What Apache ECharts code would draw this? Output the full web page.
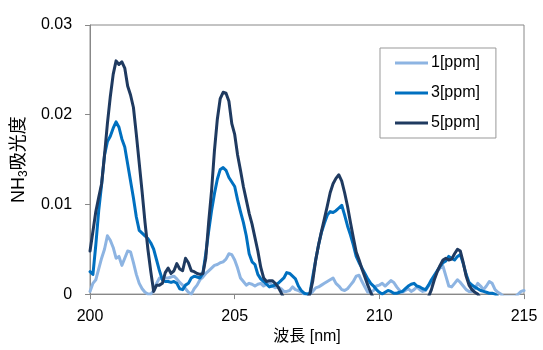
<!DOCTYPE html>
<html><head><meta charset="utf-8">
<script src="https://cdn.jsdelivr.net/npm/echarts@6/dist/echarts.min.js"></script>
<style>html,body{margin:0;padding:0;background:#fff}#c{width:543px;height:350px}</style>
</head><body><div id="c"></div>
<script>
var wavelength = [
200.0,200.1,200.2,200.3,200.4,200.5,200.6,200.7,200.8,200.9,
201.0,201.1,201.2,201.3,201.4,201.5,201.6,201.7,201.8,201.9,
202.0,202.1,202.2,202.3,202.4,202.5,202.6,202.7,202.8,202.9,
203.0,203.1,203.2,203.3,203.4,203.5,203.6,203.7,203.8,203.9,
204.0,204.1,204.2,204.3,204.4,204.5,204.6,204.7,204.8,204.9,
205.0,205.1,205.2,205.3,205.4,205.5,205.6,205.7,205.8,205.9,
206.0,206.1,206.2,206.3,206.4,206.5,206.6,206.7,206.8,206.9,
207.0,207.1,207.2,207.3,207.4,207.5,207.6,207.7,207.8,207.9,
208.0,208.1,208.2,208.3,208.4,208.5,208.6,208.7,208.8,208.9,
209.0,209.1,209.2,209.3,209.4,209.5,209.6,209.7,209.8,209.9,
210.0,210.1,210.2,210.3,210.4,210.5,210.6,210.7,210.8,210.9,
211.0,211.1,211.2,211.3,211.4,211.5,211.6,211.7,211.8,211.9,
212.0,212.1,212.2,212.3,212.4,212.5,212.6,212.7,212.8,212.9,
213.0,213.1,213.2,213.3,213.4,213.5,213.6,213.7,213.8,213.9,
214.0,214.1,214.2,214.3,214.4,214.5,214.6,214.7,214.8,214.9,215.0];

var ppm1 = [
0.0003,0.0012,0.0016,0.0028,0.0040,0.0050,0.0065,0.0060,0.0052,0.0040,
0.0042,0.0032,0.0040,0.0048,0.0047,0.0035,0.0022,0.0012,0.0006,0.0002,
0.0000,0.0000,0.0004,0.0012,0.0018,0.0017,0.0018,0.0018,0.0019,0.0020,
0.0017,0.0013,0.0010,0.0006,0.0002,0.0000,0.0006,0.0010,0.0016,0.0019,
0.0023,0.0026,0.0029,0.0032,0.0033,0.0035,0.0036,0.0039,0.0045,0.0044,
0.0038,0.0029,0.0018,0.0014,0.0010,0.0012,0.0011,0.0009,0.0011,0.0012,
0.0009,0.0011,0.0014,0.0009,0.0007,0.0008,0.0006,0.0003,0.0003,0.0004,
0.0008,0.0005,0.0004,0.0002,0.0000,0.0000,0.0000,0.0003,0.0007,0.0008,
0.0010,0.0012,0.0014,0.0016,0.0018,0.0012,0.0009,0.0005,0.0004,0.0006,
0.0010,0.0014,0.0020,0.0021,0.0014,0.0008,0.0002,0.0002,0.0004,0.0009,
0.0010,0.0012,0.0009,0.0012,0.0015,0.0013,0.0008,0.0004,0.0002,0.0004,
0.0006,0.0003,0.0005,0.0008,0.0005,0.0003,0.0004,0.0009,0.0013,0.0018,
0.0025,0.0029,0.0031,0.0020,0.0009,0.0008,0.0012,0.0016,0.0013,0.0009,
0.0005,0.0003,0.0003,0.0006,0.0012,0.0009,0.0005,0.0009,0.0014,0.0012,
0.0005,0.0002,0.0000,-0.0003,-0.0003,-0.0003,-0.0003,-0.0003,0.0000,0.0003,0.0004];

var ppm3 = [
0.0025,0.0022,0.0055,0.0093,0.0122,0.0155,0.0170,0.0176,0.0185,0.0192,
0.0186,0.0173,0.0164,0.0145,0.0126,0.0107,0.0086,0.0071,0.0068,0.0065,
0.0062,0.0057,0.0050,0.0038,0.0026,0.0016,0.0014,0.0014,0.0013,0.0014,
0.0012,0.0006,0.0005,0.0010,0.0012,0.0018,0.0020,0.0019,0.0018,0.0023,
0.0045,0.0070,0.0093,0.0112,0.0128,0.0139,0.0141,0.0138,0.0130,0.0125,
0.0120,0.0105,0.0092,0.0080,0.0065,0.0045,0.0036,0.0033,0.0022,0.0017,
0.0014,0.0011,0.0008,0.0009,0.0010,0.0012,0.0015,0.0018,0.0024,0.0023,
0.0020,0.0017,0.0009,0.0004,0.0001,0.0000,0.0001,0.0020,0.0038,0.0055,
0.0069,0.0079,0.0088,0.0092,0.0091,0.0093,0.0096,0.0099,0.0088,0.0076,
0.0066,0.0055,0.0042,0.0035,0.0029,0.0023,0.0017,0.0012,0.0009,0.0005,
0.0002,0.0000,0.0002,0.0004,0.0003,0.0001,0.0001,0.0002,0.0003,0.0006,
0.0009,0.0011,0.0012,0.0009,0.0008,0.0006,0.0005,0.0010,0.0016,0.0021,
0.0026,0.0031,0.0035,0.0037,0.0042,0.0040,0.0038,0.0042,0.0044,0.0034,
0.0022,0.0013,0.0010,0.0008,0.0006,0.0004,0.0003,0.0002,0.0001,0.0001,
0.0000,-0.0003,-0.0008,-0.0008,-0.0008,-0.0008,-0.0008,-0.0008,-0.0008,-0.0008,-0.0008];

var ppm5 = [
0.0048,0.0070,0.0092,0.0108,0.0123,0.0155,0.0190,0.0220,0.0245,0.0260,
0.0256,0.0259,0.0252,0.0232,0.0222,0.0208,0.0178,0.0146,0.0114,0.0080,
0.0050,0.0025,0.0003,0.0010,0.0010,0.0012,0.0024,0.0029,0.0023,0.0026,
0.0034,0.0028,0.0026,0.0040,0.0035,0.0026,0.0025,0.0023,0.0022,0.0023,
0.0040,0.0080,0.0115,0.0160,0.0195,0.0218,0.0225,0.0224,0.0215,0.0190,
0.0178,0.0155,0.0138,0.0120,0.0105,0.0090,0.0078,0.0063,0.0048,0.0030,
0.0018,0.0014,0.0015,0.0015,0.0012,0.0008,0.0002,-0.0005,-0.0010,-0.0010,
-0.0010,-0.0010,-0.0010,-0.0010,-0.0008,-0.0005,0.0000,0.0015,0.0038,0.0055,
0.0070,0.0084,0.0098,0.0113,0.0123,0.0129,0.0133,0.0126,0.0113,0.0098,
0.0080,0.0063,0.0047,0.0038,0.0028,0.0019,0.0010,0.0002,-0.0005,-0.0010,
-0.0010,-0.0010,-0.0010,-0.0010,-0.0010,-0.0010,-0.0010,-0.0010,-0.0010,-0.0010,
-0.0010,-0.0010,-0.0010,-0.0010,-0.0010,-0.0010,-0.0010,-0.0003,0.0005,0.0016,
0.0025,0.0032,0.0038,0.0040,0.0038,0.0039,0.0045,0.0050,0.0048,0.0035,
0.0020,0.0010,0.0005,0.0002,0.0000,-0.0005,-0.0010,-0.0010,-0.0010,-0.0010,
-0.0010,-0.0010,-0.0010,-0.0010,-0.0010,-0.0010,-0.0010,-0.0010,-0.0010,-0.0010,-0.0010];

var seriesNames = ['1[ppm]', '3[ppm]', '5[ppm]'];
var seriesColors = ['#8DB4E2', '#0070C0', '#1F3A60'];
var xTicks = {min: 200, max: 215, interval: 5};
var yTicks = {min: 0, max: 0.03, interval: 0.01};

var FONT = "'Liberation Sans', Arial, 'Noto Sans CJK JP', sans-serif";
function pairs(arr) { return wavelength.map(function (w, i) { return [w, arr[i]]; }); }
var allData = [ppm1, ppm3, ppm5];

var chart = echarts.init(document.getElementById('c'), null, {renderer: 'canvas'});
chart.setOption({
  animation: false,
  backgroundColor: '#ffffff',
  textStyle: {fontFamily: FONT},
  grid: {left: 89, right: 19, top: 25, bottom: 54, show: true, borderColor: '#888888', borderWidth: 1, backgroundColor: 'transparent'},
  legend: {
    orient: 'vertical', left: 380, top: 48,
    padding: [6, 16, 6, 15],
    backgroundColor: '#ffffff', borderColor: '#999999', borderWidth: 1,
    itemWidth: 33, itemHeight: 3, itemGap: 12, icon: 'rect',
    textStyle: {fontFamily: FONT, fontSize: 16, color: '#000', lineHeight: 18, padding: [0, 0, 0, -2]},
    data: seriesNames
  },
  xAxis: {
    type: 'value', min: xTicks.min, max: xTicks.max, interval: xTicks.interval,
    name: '波長 [nm]', nameLocation: 'middle', nameGap: 33,
    nameTextStyle: {fontFamily: FONT, fontSize: 16, color: '#000'},
    axisLine: {show: true, onZero: false, lineStyle: {color: '#888888', width: 1}},
    axisTick: {show: true, inside: false, length: 5, lineStyle: {color: '#888888'}},
    axisLabel: {fontFamily: FONT, fontSize: 16, color: '#000', margin: 14},
    splitLine: {show: false}
  },
  yAxis: {
    type: 'value', min: yTicks.min, max: yTicks.max, interval: yTicks.interval,
    name: '{n|NH}{s|3}{n|吸光度}', nameLocation: 'middle', nameGap: 59,
    nameTextStyle: {fontFamily: FONT, fontSize: 18, color: '#000',
      rich: {
        n: {fontFamily: FONT, fontSize: 18, color: '#000', lineHeight: 22},
        s: {fontFamily: FONT, fontSize: 12, color: '#000', lineHeight: 22, padding: [10, 0, 0, 0]}
      }},
    axisLine: {show: true, lineStyle: {color: '#888888', width: 1}},
    axisTick: {show: true, inside: false, length: 5, lineStyle: {color: '#888888'}},
    axisLabel: {fontFamily: FONT, fontSize: 16, color: '#000', margin: 18},
    splitLine: {show: false}
  },
  series: seriesNames.map(function (name, k) {
    return {
      name: name, type: 'line', data: pairs(allData[k]),
      showSymbol: false, symbol: 'none', smooth: false, clip: true,
      color: seriesColors[k],
      lineStyle: {color: seriesColors[k], width: 3, join: 'round', cap: 'round'}
    };
  })
});
</script></body></html>
